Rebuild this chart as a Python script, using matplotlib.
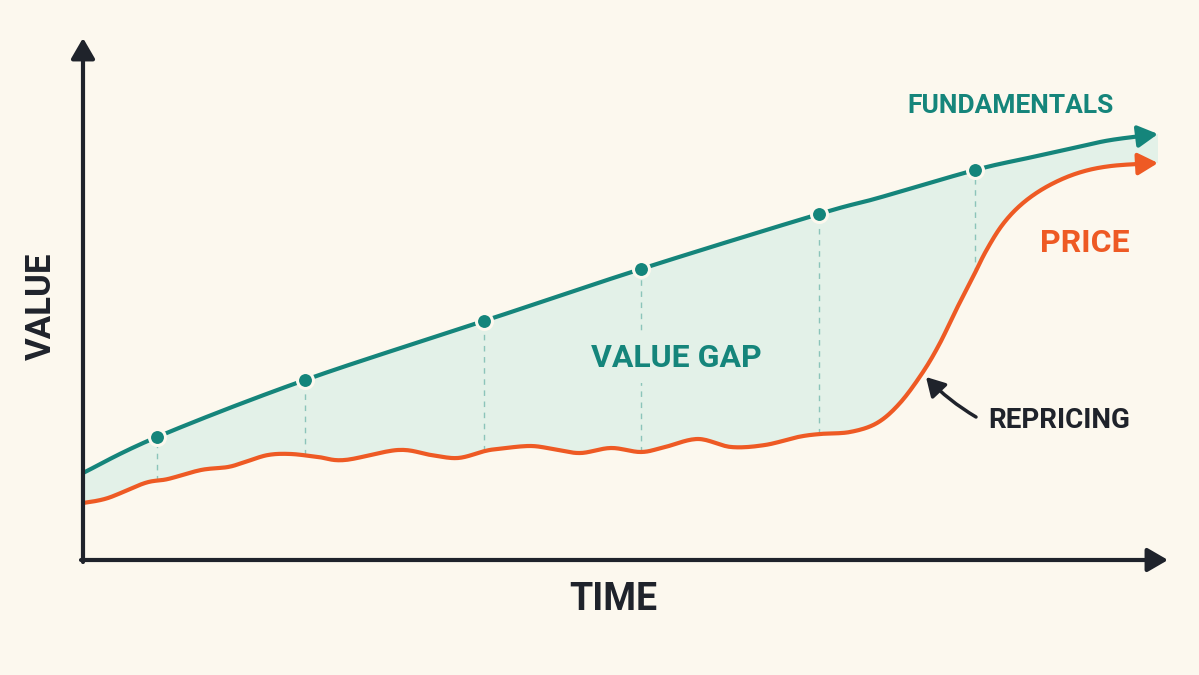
import numpy as np
import matplotlib
matplotlib.use("Agg")
import matplotlib.pyplot as plt

# ---- dados (tempo, valor) ----
tempo_fund = [0.0, 0.74, 2.22, 4.01, 5.58, 7.36, 7.95, 8.92, 9.45, 9.95, 10.28, 10.75]
valor_fund = [0.87, 1.23, 1.80, 2.39, 2.91, 3.46, 3.62, 3.90, 4.02, 4.13, 4.20, 4.26]

tempo_pontos = [0.74, 2.22, 4.01, 5.58, 7.36, 8.92]

tempo_preco = [0.0, 0.25, 0.62, 0.85, 1.18, 1.45, 1.62, 1.85, 2.08, 2.35, 2.62,
               3.15, 3.48, 3.75, 4.02, 4.15, 4.48, 4.75, 4.98, 5.28, 5.58, 5.82,
               6.15, 6.48, 6.82, 7.15, 7.37, 7.67, 7.94, 8.17, 8.40, 8.57,
               8.72, 8.88, 9.03, 9.20, 9.40, 9.65, 9.95, 10.28, 10.75]
valor_preco = [0.57, 0.62, 0.77, 0.81, 0.90, 0.93, 0.98, 1.05, 1.06, 1.03, 1.00,
               1.10, 1.05, 1.02, 1.09, 1.11, 1.14, 1.10, 1.07, 1.12, 1.08, 1.13,
               1.21, 1.13, 1.15, 1.23, 1.26, 1.28, 1.37, 1.57, 1.88, 2.17,
               2.48, 2.79, 3.09, 3.36, 3.57, 3.74, 3.87, 3.94, 3.97]

# ---- cores ----
FUNDO = "#FCF8EE"
TEAL = "#15857B"
LARANJA = "#EE5A24"
PREENCH = "#E3F1E8"
TRACO = "#8CC4BA"
ESCURO = "#1F232B"


def suavizar(xs, ys, n=16):
    """Catmull-Rom simples so para desenhar a curva lisa."""
    p = np.column_stack([xs, ys])
    p = np.vstack([p[0], p, p[-1]])
    out = []
    for i in range(1, len(p) - 2):
        p0, p1, p2, p3 = p[i - 1], p[i], p[i + 1], p[i + 2]
        for s in np.linspace(0, 1, n, endpoint=False):
            out.append(0.5 * ((2 * p1) + (-p0 + p2) * s
                              + (2 * p0 - 5 * p1 + 4 * p2 - p3) * s ** 2
                              + (-p0 + 3 * p1 - 3 * p2 + p3) * s ** 3))
    out.append(p[-2])
    out = np.array(out)
    return out[:, 0], out[:, 1]


fx, fy = suavizar(tempo_fund, valor_fund)
px, py = suavizar(tempo_preco, valor_preco)

fig = plt.figure(figsize=(11.99, 6.75), dpi=100, facecolor=FUNDO)
ax = fig.add_axes([0, 0, 1, 1])
ax.set_facecolor(FUNDO)
ax.set_xlim(-0.83, 11.16)
ax.set_ylim(-1.15, 5.60)
ax.axis("off")

fonte = "Roboto"

# area do gap
ax.fill(np.concatenate([fx, px[::-1]]), np.concatenate([fy, py[::-1]]),
        color=PREENCH, lw=0, zorder=1)

# linhas tracejadas verticais
for t in tempo_pontos:
    topo = np.interp(t, fx, fy)
    base = np.interp(t, px, py)
    ax.plot([t, t], [base, topo], color=TRACO, lw=1.0, ls=(0, (4, 4)), zorder=2)

# curvas
ax.plot(fx[:-3], fy[:-3], color=TEAL, lw=3, solid_capstyle="round", zorder=4)
ax.plot(px[:-3], py[:-3], color=LARANJA, lw=3, solid_capstyle="round", zorder=4)
for xs, ys, c in [(fx, fy, TEAL), (px, py, LARANJA)]:
    ax.annotate("", xy=(xs[-1], ys[-1]), xytext=(xs[-5], ys[-5]),
                arrowprops=dict(arrowstyle="-|>,head_length=0.6,head_width=0.33",
                                color=c, lw=3, mutation_scale=20,
                                shrinkA=0, shrinkB=0), zorder=4)

# pontos
ax.plot(tempo_pontos, np.interp(tempo_pontos, fx, fy), "o", color=TEAL,
        ms=11.5, mec=FUNDO, mew=2.2, zorder=5)

# eixos
seta = dict(arrowstyle="-|>,head_length=0.62,head_width=0.36", color=ESCURO,
            lw=3, mutation_scale=20, shrinkA=0, shrinkB=0)
ax.annotate("", xy=(10.85, 0), xytext=(-0.02, 0), arrowprops=seta, zorder=6)
ax.annotate("", xy=(0, 5.22), xytext=(0, -0.02), arrowprops=seta, zorder=6)

# textos
ax.text(9.28, 4.54, "FUNDAMENTALS", color=TEAL, fontsize=19, fontweight="bold",
        family=fonte, ha="center", va="center", zorder=7)
ax.text(10.02, 3.17, "PRICE", color=LARANJA, fontsize=23, fontweight="bold",
        family=fonte, ha="center", va="center", zorder=7)
ax.text(5.93, 2.02, "VALUE GAP", color=TEAL, fontsize=23, fontweight="bold",
        family=fonte, ha="center", va="center", zorder=7,
        bbox=dict(boxstyle="square,pad=0.3", fc=PREENCH, ec="none"))
ax.text(-0.42, 2.54, "VALUE", color=ESCURO, fontsize=25, fontweight="bold",
        family=fonte, ha="center", va="center", rotation=90, zorder=7)
ax.text(5.30, -0.40, "TIME", color=ESCURO, fontsize=27, fontweight="bold",
        family=fonte, ha="center", va="center", zorder=7)
ax.text(9.05, 1.40, "REPRICING", color=ESCURO, fontsize=20, fontweight="bold",
        family=fonte, ha="left", va="center", zorder=7)
ax.annotate("", xy=(8.43, 1.83), xytext=(8.93, 1.43),
            arrowprops=dict(arrowstyle="-|>,head_length=0.7,head_width=0.4",
                            color=ESCURO, lw=2.5, mutation_scale=16,
                            connectionstyle="arc3,rad=-0.07",
                            shrinkA=0, shrinkB=0), zorder=7)

fig.savefig("out.png", dpi=100, facecolor=FUNDO)
